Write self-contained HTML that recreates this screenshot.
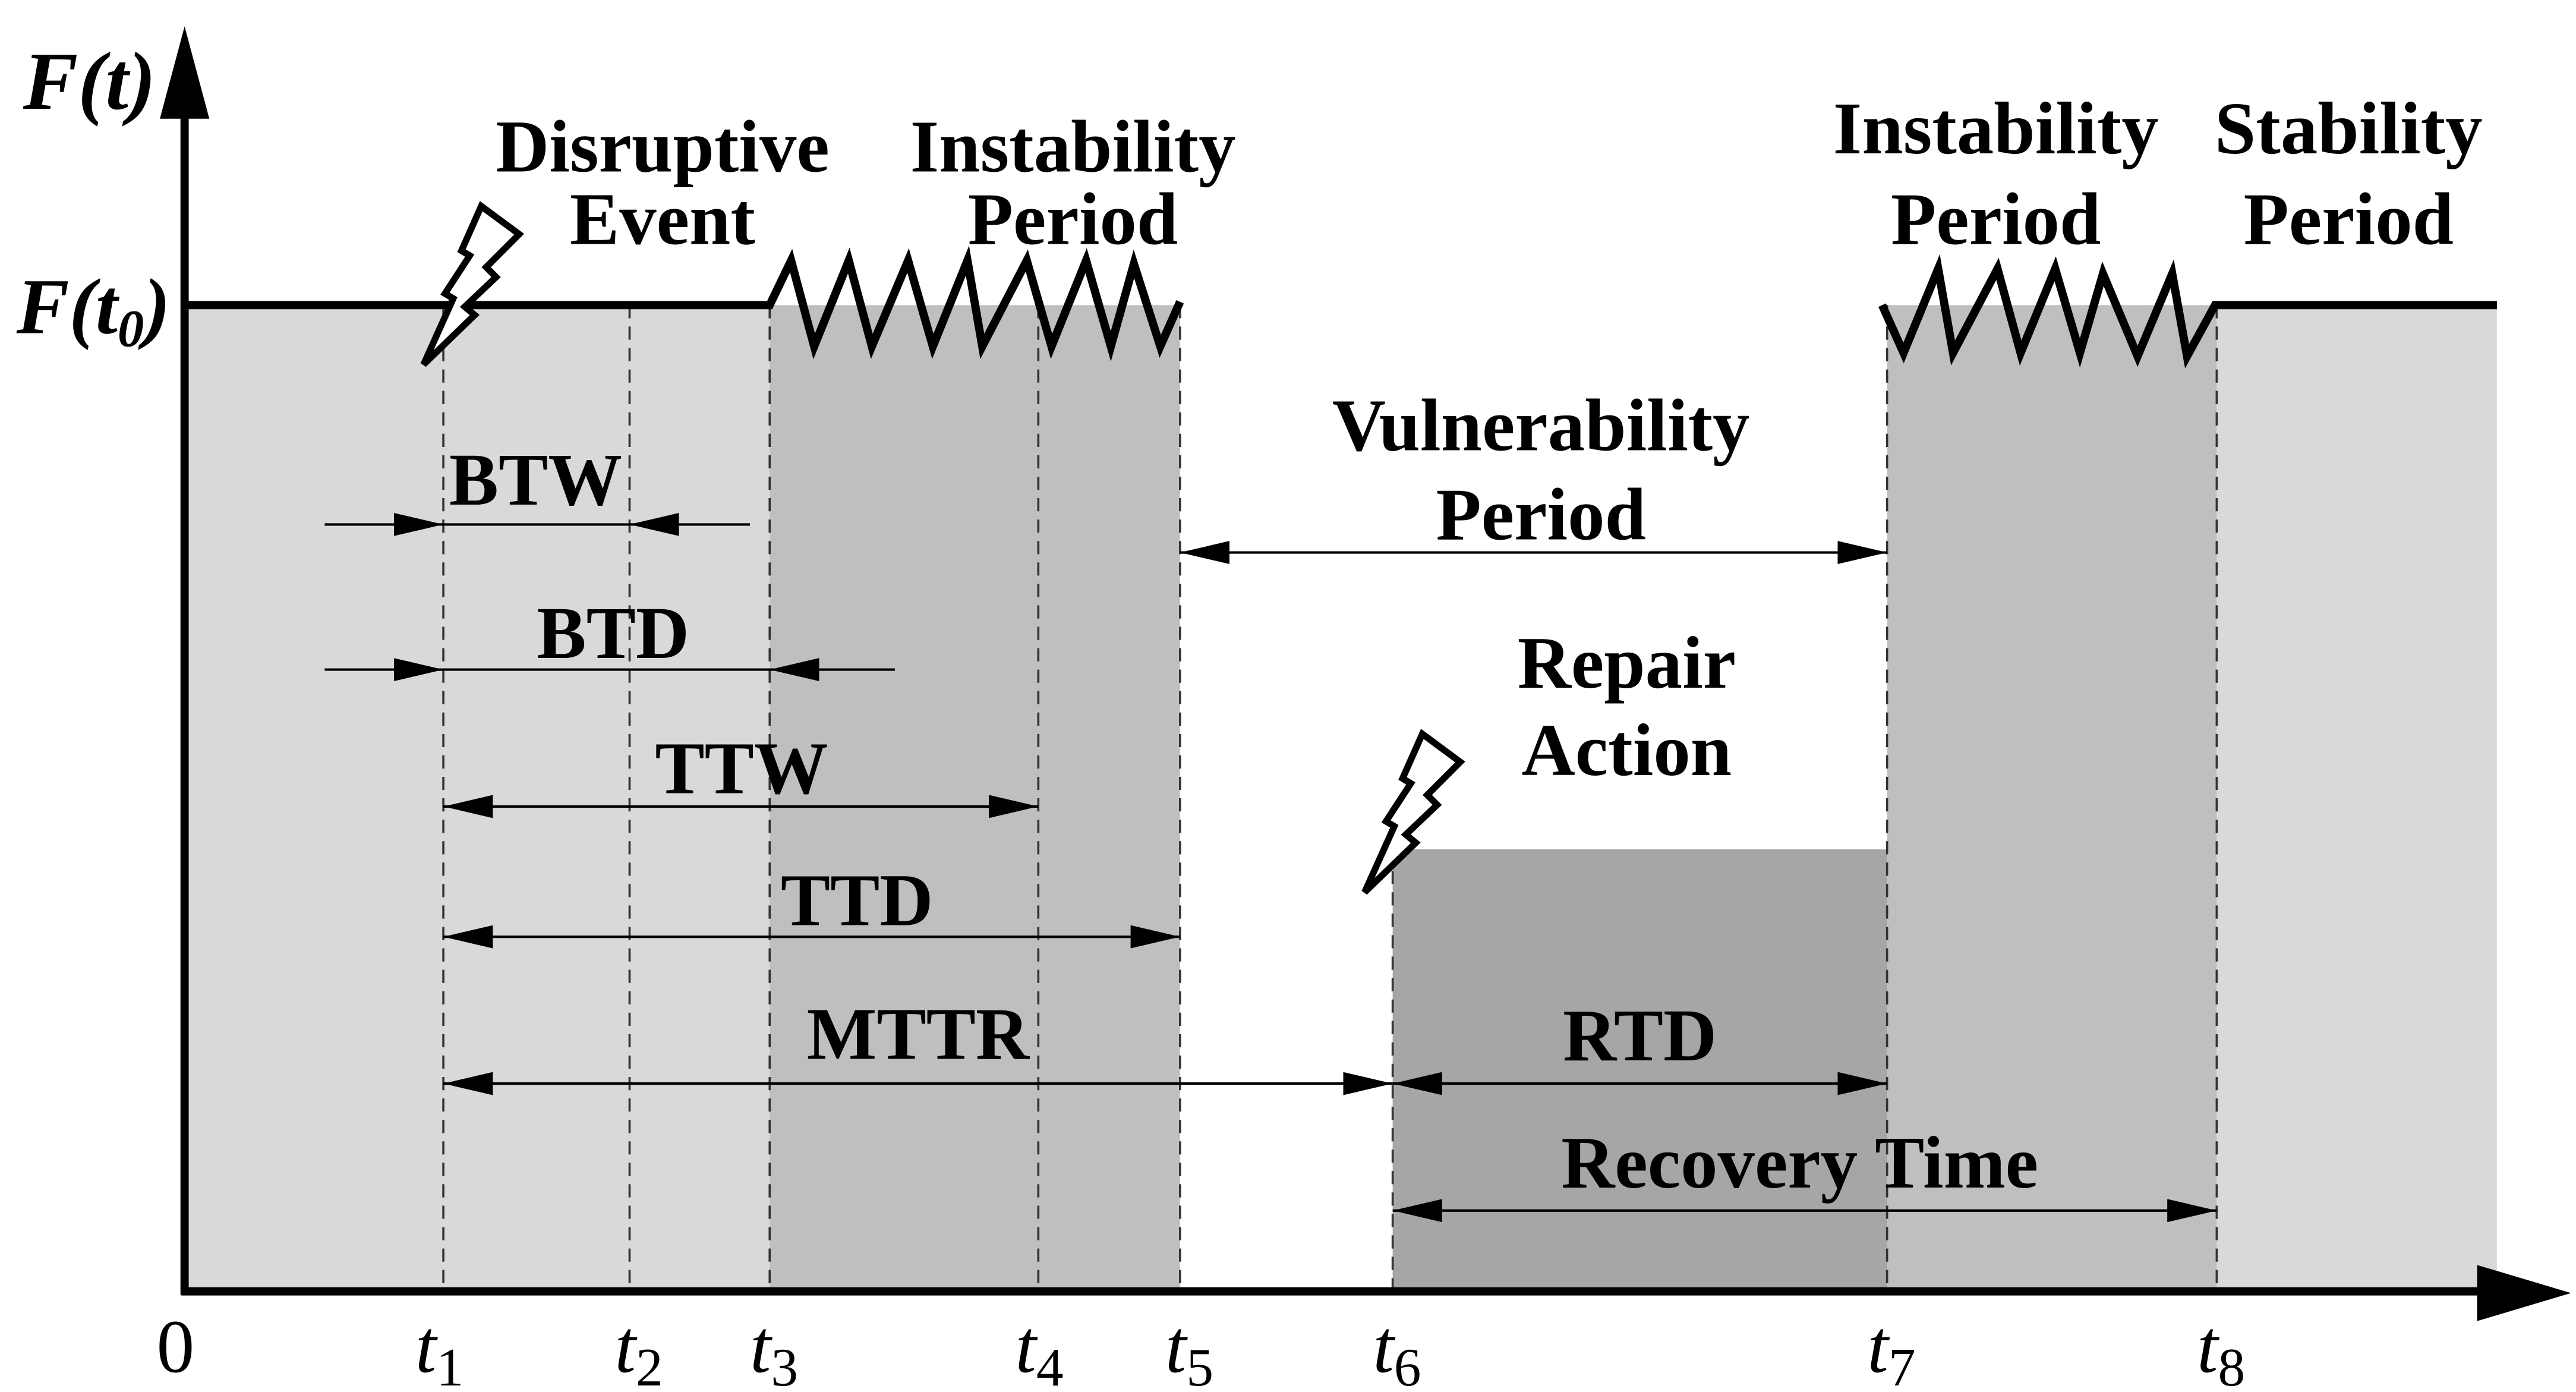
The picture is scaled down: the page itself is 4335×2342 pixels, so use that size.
<!DOCTYPE html>
<html><head><meta charset="utf-8"><style>
html,body{margin:0;padding:0;background:#fff;}
svg{display:block;}
text{font-family:"Liberation Serif",serif;font-weight:bold;font-size:45px;fill:#000;}
.t{font-weight:normal;font-style:italic;font-size:46px;}
.s{font-weight:normal;font-style:normal;font-size:33px;}
</style></head><body>
<svg width="4335" height="2342" viewBox="0 0 1563 844" preserveAspectRatio="none" xmlns="http://www.w3.org/2000/svg">
<defs>
<marker id="a" viewBox="0 0 30 14" refX="30" refY="7" markerWidth="30" markerHeight="14" markerUnits="userSpaceOnUse" orient="auto-start-reverse"><path d="M0,0 L30,7 L0,14 Z" fill="#000"/></marker>
</defs>
<rect x="112" y="185" width="355" height="598" fill="#d9d9d9"/>
<rect x="467" y="185" width="249" height="598" fill="#bfbfbf"/>
<rect x="845" y="515" width="300" height="268" fill="#a6a6a6"/>
<rect x="1145" y="185" width="200" height="598" fill="#bfbfbf"/>
<rect x="1345" y="185" width="170" height="598" fill="#d9d9d9"/>
<g stroke="#333" stroke-width="1.3" stroke-dasharray="8,5">
<line x1="269" y1="185" x2="269" y2="783"/><line x1="382" y1="185" x2="382" y2="783"/>
<line x1="467" y1="185" x2="467" y2="783"/><line x1="630" y1="185" x2="630" y2="783"/>
<line x1="716" y1="185" x2="716" y2="783"/><line x1="845" y1="515" x2="845" y2="783"/>
<line x1="1145" y1="185" x2="1145" y2="783"/><line x1="1345" y1="185" x2="1345" y2="783"/>
</g>
<g fill="none" stroke="#000" stroke-width="5" stroke-linejoin="miter">
<polyline points="112,185 467,185 480,158 494,210 515,158 529,210 551,158 566,210 587,158 596,210 623,158 638,210 659,158 674,210 688,160 704,210 716,183"/>
<polyline points="1142,185 1155,214 1176,163 1185,214 1212,163 1226,214 1247,163 1262,214 1276,166 1297,216 1318,166 1327,216 1344,185 1515,185"/>
</g>
<line x1="112" y1="60" x2="112" y2="785" stroke="#000" stroke-width="5"/>
<line x1="110" y1="783" x2="1510" y2="783" stroke="#000" stroke-width="5"/>
<path d="M97,72 L127,72 L112,16 Z" fill="#000"/>
<path d="M1503,767 L1503,801 L1560,784 Z" fill="#000"/>
<g fill="#fff" stroke="#000" stroke-width="4" stroke-linejoin="miter">
<path d="M292,125 L315,142 L295,162 L301,168 L282,186 L288,191 L257,221 L275,181 L270,178 L285,155 L280,152 Z"/>
<path d="M863,445 L886,462 L866,482 L872,488 L853,506 L859,511 L828,541 L846,501 L841,498 L856,475 L851,472 Z"/>
</g>
<g stroke="#000" stroke-width="1.5" fill="none">
<line x1="197" y1="318" x2="455" y2="318"/>
<line x1="239" y1="318" x2="269" y2="318" marker-end="url(#a)"/>
<line x1="412" y1="318" x2="382" y2="318" marker-end="url(#a)"/>
<line x1="197" y1="406" x2="543" y2="406"/>
<line x1="239" y1="406" x2="269" y2="406" marker-end="url(#a)"/>
<line x1="497" y1="406" x2="467" y2="406" marker-end="url(#a)"/>
<line x1="269" y1="489" x2="630" y2="489" marker-start="url(#a)" marker-end="url(#a)"/>
<line x1="269" y1="568" x2="716" y2="568" marker-start="url(#a)" marker-end="url(#a)"/>
<line x1="269" y1="657" x2="845" y2="657" marker-start="url(#a)" marker-end="url(#a)"/>
<line x1="845" y1="657" x2="1145" y2="657" marker-start="url(#a)" marker-end="url(#a)"/>
<line x1="845" y1="734" x2="1345" y2="734" marker-start="url(#a)" marker-end="url(#a)"/>
<line x1="716" y1="335" x2="1145" y2="335" marker-start="url(#a)" marker-end="url(#a)"/>
</g>
<g text-anchor="middle">
<text x="402" y="104">Disruptive</text><text x="402" y="148">Event</text>
<text x="651" y="104">Instability</text><text x="651" y="148">Period</text>
<text x="1211" y="93">Instability</text><text x="1211" y="148">Period</text>
<text x="1425" y="93">Stability</text><text x="1425" y="148">Period</text>
<text x="935" y="273">Vulnerability</text><text x="935" y="327">Period</text>
<text x="987" y="417">Repair</text><text x="987" y="470">Action</text>
<text x="325" y="306">BTW</text>
<text x="372" y="399">BTD</text>
<text x="450" y="481">TTW</text>
<text x="520" y="561">TTD</text>
<text x="557" y="642">MTTR</text>
<text x="995" y="643">RTD</text>
<text x="1092" y="720">Recovery Time</text>
</g>
<text x="14" y="66" style="font-style:italic;font-size:50px">F(t)</text>
<text x="10" y="202" style="font-style:italic;font-size:48px">F(t<tspan font-size="32" dy="8">0</tspan><tspan dy="-8">)</tspan></text>
<text class="t" x="95" y="832" style="font-style:normal">0</text>
<text class="t" x="252" y="832">t<tspan class="s" dy="8">1</tspan></text>
<text class="t" x="373" y="832">t<tspan class="s" dy="8">2</tspan></text>
<text class="t" x="455" y="832">t<tspan class="s" dy="8">3</tspan></text>
<text class="t" x="616" y="832">t<tspan class="s" dy="8">4</tspan></text>
<text class="t" x="707" y="832">t<tspan class="s" dy="8">5</tspan></text>
<text class="t" x="833" y="832">t<tspan class="s" dy="8">6</tspan></text>
<text class="t" x="1133" y="832">t<tspan class="s" dy="8">7</tspan></text>
<text class="t" x="1333" y="832">t<tspan class="s" dy="8">8</tspan></text>
</svg>
</body></html>
